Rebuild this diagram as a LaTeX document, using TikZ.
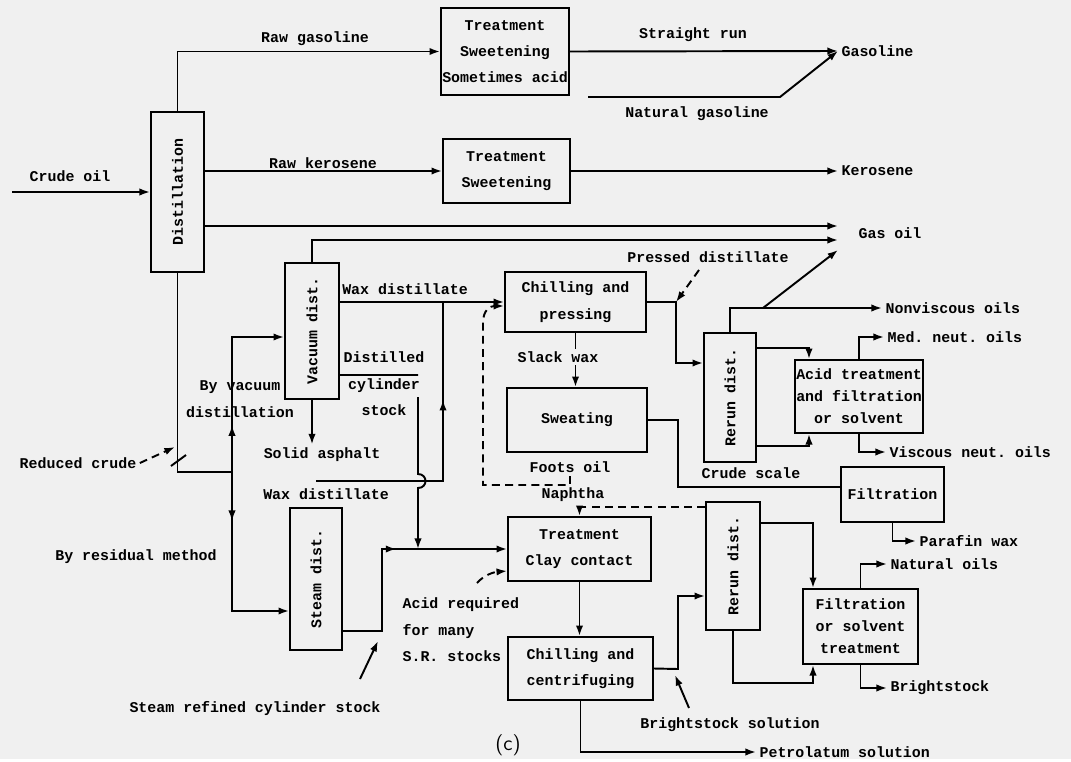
\documentclass[tikz,border=0pt]{standalone}
\usepackage{fontspec}
\setmonofont{Liberation Mono}
\usetikzlibrary{arrows.meta,decorations.markings}

\begin{document}
\begin{tikzpicture}[x=0.02cm,y=-0.02cm,line width=1.1pt,
  box/.style={draw,inner sep=0pt,align=center,font=\ttfamily\bfseries\fontsize{8.5}{15}\selectfont},
  lbl/.style={inner sep=1.5pt,align=center,font=\ttfamily\bfseries\fontsize{8.5}{15}\selectfont},
  tight/.style={font=\ttfamily\bfseries\fontsize{8.5}{12.5}\selectfont},
  flow/.style={-{Latex[length=6pt,width=4.2pt]}},
  dsh/.style={dash pattern=on 4.5pt off 3pt},
  midarr/.style={postaction={decorate},decoration={markings,mark=at position #1 with {\arrow{Latex[length=6pt,width=4.2pt]}}}}]

\fill[black!6] (0,0) rectangle (1071,759);

%boxes
\node[box,minimum width=1.06cm,minimum height=3.2cm] (dist) at (177.5,192) {};
\node[lbl,rotate=90] at (dist) {Distillation};
\node[box,minimum width=2.56cm,minimum height=1.74cm] (tsw1) at (505,51.5) {Treatment\\Sweetening\\Sometimes acid};
\node[box,minimum width=2.54cm,minimum height=1.28cm] (tsw2) at (506.5,171) {Treatment\\Sweetening};
\node[box,minimum width=1.08cm,minimum height=2.72cm] (vac) at (312,331) {};
\node[lbl,rotate=90] at (vac) {Vacuum dist.};
\node[box,minimum width=1.04cm,minimum height=2.84cm] (steam) at (316,579) {};
\node[lbl,rotate=90] at (steam) {Steam dist.};
\node[box,minimum width=2.82cm,minimum height=1.2cm] (chp) at (575.5,302) {Chilling and\\pressing};
\node[box,minimum width=2.8cm,minimum height=1.28cm] (swe) at (577,420) {Sweating};
\node[box,minimum width=1.04cm,minimum height=2.58cm] (rr1) at (730,397.5) {};
\node[lbl,rotate=90] at (rr1) {Rerun dist.};
\node[box,tight,minimum width=2.56cm,minimum height=1.46cm] (acid) at (859,396.5) {Acid treatment\\and filtration\\or solvent};
\node[box,minimum width=2.06cm,minimum height=1.1cm] (filt) at (892.5,494.5) {Filtration};
\node[box,minimum width=2.86cm,minimum height=1.28cm] (clay) at (579.5,549) {Treatment\\Clay contact};
\node[box,minimum width=1.08cm,minimum height=2.56cm] (rr2) at (733,566) {};
\node[lbl,rotate=90] at (rr2) {Rerun dist.};
\node[box,tight,minimum width=2.3cm,minimum height=1.5cm] (fos) at (860.5,626.5) {Filtration\\or solvent\\treatment};
\node[box,minimum width=2.9cm,minimum height=1.26cm] (cen) at (580.5,668.5) {Chilling and\\centrifuging};

%labels
\node[lbl] (lcrude) at (70,176) {Crude oil};
\node[lbl] at (315,39) {Raw gasoline};
\node[lbl] at (323,163) {Raw kerosene};
\node[lbl] at (693,35) {Straight run};
\node[lbl] at (697,114) {Natural gasoline};
\node[lbl,anchor=west] (gasoline) at (838,51) {Gasoline};
\node[lbl,anchor=west] (kero) at (838,171) {Kerosene};
\node[lbl,anchor=west] at (855,233) {Gas oil};
\node[lbl] at (708,257) {Pressed distillate};
\node[lbl] at (405,289) {Wax distillate};
\node[lbl] at (384,384) {Distilled\\cylinder\\stock};
\node[lbl] at (240,399) {By vacuum\\distillation};
\node[lbl] (asph) at (322,455) {Solid asphalt};
\node[lbl] (redc) at (78,463) {Reduced crude};
\node[lbl] at (326,494) {Wax distillate};
\node[lbl] at (136,557) {By residual method};
\node[lbl] at (255,709) {Steam refined cylinder stock};
\node[lbl,anchor=west,align=left] at (399,630) {Acid required\\for many\\S.R. stocks};
\node[lbl] (fo) at (570,467) {Foots oil};
\node[lbl] at (573,495) {Naphtha};
\node[lbl] at (751,473) {Crude scale};
\node[lbl,anchor=west] (nonv) at (882,308) {Nonviscous oils};
\node[lbl,anchor=west] (med) at (884,337) {Med. neut. oils};
\node[lbl,anchor=west] (visc) at (886,452) {Viscous neut. oils};
\node[lbl,anchor=west] (paraf) at (916,541) {Parafin wax};
\node[lbl,anchor=west] (natoil) at (887,564) {Natural oils};
\node[lbl,anchor=west] (bright) at (887,688) {Brightstock};
\node[lbl] at (730,725) {Brightstock solution};
\node[lbl,anchor=west] (petro) at (756,752) {Petrolatum solution};
\node[font=\sffamily\fontsize{12}{14}\selectfont] at (508,745) {(c)};

%top products
\coordinate (crude) at (12,192);
\draw[flow] (crude) -- (dist.west);
\draw[flow] (dist.north) |- (tsw1.west);
\draw[flow] (dist.east |- tsw2.west) -- (tsw2.west);
\draw[flow] (tsw1.east) -- (gasoline.west);
\coordinate (natl) at (588,97);
\coordinate (natk) at (780,97);
\draw[flow] (natl) -- (natk) -- (gasoline.west);
\draw[flow] (tsw2.east) -- (kero.west);
\coordinate (go1) at (838,226);
\coordinate (go2) at (838,240);
\draw[flow] (dist.east |- go1) -- (go1);
\draw[flow] (vac.north) |- (go2);

%reduced crude
\coordinate (jn) at (232,472);
\draw (dist.south) |- (jn);
\draw (171,466) -- (186,455);
\coordinate (redp) at (175,447);
\draw[dsh,flow] (redc.east) -- (redp);
\draw[flow,midarr=.25] (jn) |- ([yshift=-0.12cm]vac.west);
\draw[flow,midarr=.25] (jn) |- ([yshift=-0.64cm]steam.west);

%vacuum dist.
\draw[flow] (vac.east |- chp.west) -- (chp.west);
\coordinate (dcs) at (418,375);
\coordinate (dcs2) at (418,397);
\draw ([yshift=-0.88cm]vac.east) -- (dcs);
\draw[flow] (vac.south) -- (vac.south |- asph.north);
\coordinate (lw1) at (316,481);
\coordinate (lw2) at (443,481);
\draw[midarr=.68] (lw1) -- (lw2) -- (lw2 |- chp.west);
\draw[flow] (dcs2) -- (418,474) .. controls (428,474) and (428,488) .. (418,488) -- (dcs2 |- clay.west);

%steam dist.
\coordinate (sr) at (382,631);
\draw[flow,midarr=.55] ([yshift=-1.04cm]steam.east) -- (sr) |- (clay.west);
\coordinate (srp1) at (360,679);
\coordinate (srp2) at (378,641);
\draw[flow] (srp1) -- (srp2);
\coordinate (acp) at (477,583);
\draw[dsh,flow] (acp) .. controls (485,574) and (495,572) .. ([yshift=-0.44cm]clay.west);

%wax
\coordinate (pj) at (676,302);
\draw[flow] (chp.east) -- (pj) |- ([yshift=0.69cm]rr1.west);
\coordinate (pdp) at (699,270);
\draw[dsh,flow] (pdp) -- (pj);
\draw[flow] (chp.south) -- (chp.south |- swe.north);
\node[lbl,fill=black!6] at (558,357) {Slack wax};
\coordinate (dl1) at (483,485);
\coordinate (dl2) at (483,323);
\draw[dsh,flow] (fo.south) |- (dl1) -- (dl2) .. controls (483,310) and (490,306) .. ([yshift=-0.08cm]chp.west);
\coordinate (cs) at (678,420);
\draw (swe.east) -- (cs) |- ([yshift=0.15cm]filt.west);
\draw[flow] (filt.south) |- (paraf.west);

%rerun dist. (pressed)
\coordinate (dg1) at (763,308);
\coordinate (dg2) at (838,250);
\draw[flow] (rr1.north) |- (nonv.west);
\draw[flow] (dg1) -- (dg2);
\draw[flow] ([yshift=0.99cm]rr1.east) -| ([xshift=-1cm]acid.north);
\draw[flow] ([yshift=-0.97cm]rr1.east) -| ([xshift=-1cm]acid.south);
\draw[flow] (acid.north) |- (med.west);
\draw[flow] (acid.south) |- (visc.west);

%residual line
\draw[dsh,flow] ([yshift=1.18cm]rr2.west) -| (clay.north);
\draw[flow] (clay.south) -- (clay.south |- cen.north);
\coordinate (bj) at (678,669);
\draw[flow] (cen.east) -- (bj) |- ([yshift=-0.6cm]rr2.west);
\coordinate (bsp1) at (689,708);
\coordinate (bsp2) at (675,675);
\draw[flow] (bsp1) -- (bsp2);
\draw[flow] (cen.south) |- (petro.west);
\draw[flow] ([yshift=0.86cm]rr2.east) -| ([xshift=-0.95cm]fos.north);
\draw[flow] (rr2.south) -- ++(0,52) -| ([xshift=-0.95cm]fos.south);
\draw[flow] (fos.north) |- (natoil.west);
\draw[flow] (fos.south) |- (bright.west);

\end{tikzpicture}
\end{document}
